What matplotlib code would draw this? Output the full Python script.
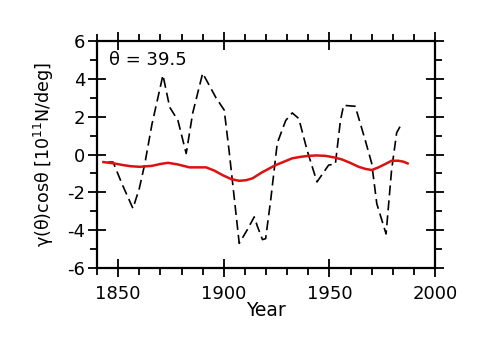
import matplotlib
matplotlib.use("Agg")
import matplotlib.pyplot as plt
from matplotlib.ticker import MultipleLocator

years_black = [1845.3, 1847.6, 1852, 1857, 1860, 1862.6, 1866, 1871.2, 1874.4, 1878.3, 1882.2,
               1885.3, 1890, 1896.3, 1900.2, 1902.6, 1907.3, 1911, 1914.4, 1915.9, 1918.3,
               1919.8, 1922.2, 1925.3, 1929.3, 1932.4, 1935.5, 1939.4, 1944.1, 1949.6,
               1952.8, 1955.2, 1956.7, 1962.2, 1966.9, 1970, 1972.4, 1976.8, 1979.4,
               1981.8, 1984.5]
gamma_black = [-0.4, -0.4, -1.6, -2.85, -1.8, -0.5, 1.6, 4.2, 2.5, 1.8, 0.05,
               2.2, 4.3, 3.0, 2.35, 0.1, -4.7, -4.0, -3.3, -3.8, -4.5,
               -4.45, -2.4, 0.6, 1.8, 2.2, 1.9, 0.23, -1.45, -0.56,
               -0.5, 1.8, 2.6, 2.55, 0.77, -0.47, -2.6, -4.2, -0.82,
               1.15, 1.7]

years_red = [1843, 1848, 1852.4, 1856, 1860.2, 1866, 1870, 1873.6, 1878, 1883.8, 1891.6,
             1895.5, 1899.4, 1903.5, 1907.3, 1910.5, 1913.6, 1918, 1924.5, 1928.5,
             1932.4, 1936.5, 1940.2, 1944, 1948.1, 1952, 1955.9, 1960, 1963.8, 1967,
             1970, 1973.2, 1976.5, 1979.4, 1982.6, 1985, 1987]
gamma_red = [-0.4, -0.47, -0.56, -0.62, -0.65, -0.6, -0.5, -0.44, -0.52, -0.68, -0.68,
             -0.85, -1.09, -1.3, -1.39, -1.36, -1.26, -0.95, -0.56, -0.38,
             -0.2, -0.12, -0.07, -0.05, -0.07, -0.15, -0.26, -0.45, -0.65, -0.76,
             -0.82, -0.68, -0.5, -0.33, -0.33, -0.38, -0.47]

plt.rcParams['font.family'] = ['DejaVu Sans']
plt.rcParams['axes.unicode_minus'] = False

fig = plt.figure(figsize=(4.95, 3.48), dpi=100)
ax = fig.add_axes([0.196, 0.230, 0.683, 0.652])

ax.plot(years_black, gamma_black, color='black', lw=1.2, ls=(0, (6, 3)))
ax.plot(years_red, gamma_red, color='#dd1111', lw=1.8)

ax.set_xlim(1840, 2000)
ax.set_ylim(-6, 6)
ax.xaxis.set_major_locator(MultipleLocator(50))
ax.xaxis.set_minor_locator(MultipleLocator(10))
ax.yaxis.set_major_locator(MultipleLocator(2))
ax.yaxis.set_minor_locator(MultipleLocator(1))
ax.tick_params(which='major', direction='inout', length=13, width=1.3,
               top=True, right=True, labelsize=13)
ax.tick_params(axis='x', which='major', pad=6)
ax.tick_params(axis='y', which='major', pad=2)
ax.tick_params(which='minor', direction='out', length=5, width=1.3,
               top=True, right=True)
for s in ax.spines.values():
    s.set_linewidth(1.6)

ax.set_xlabel('Year', fontsize=13.5, labelpad=-2)
ax.set_ylabel(r'γ(θ)cosθ [10$^{11}$N/deg]', fontsize=12.6, labelpad=8)
ax.text(0.035, 0.955, 'θ = 39.5', transform=ax.transAxes, fontsize=13,
        ha='left', va='top')

fig.savefig('out.png', dpi=100)
